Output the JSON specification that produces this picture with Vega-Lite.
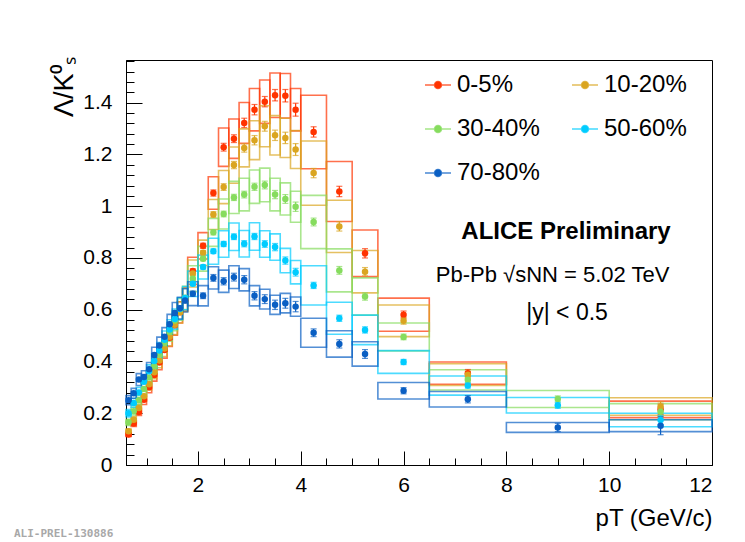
{
  "$schema": "https://vega.github.io/schema/vega-lite/v6.json",
  "width": 586,
  "height": 405,
  "autosize": {"type": "none"},
  "padding": {"left": 126, "top": 60, "right": 33, "bottom": 77},
  "background": "white",
  "title": {"text": "ALI-PREL-130886", "orient": "bottom", "anchor": "start", "frame": "group", "dx": -112, "offset": -2, "font": "DejaVu Sans Mono", "fontSize": 11, "fontWeight": "bold", "color": "#a8a8a8"},
  "config": {
    "font": "Liberation Sans",
    "view": {"stroke": "black", "strokeWidth": 1, "fill": "white"}
  },
  "data": {"values": [
    {"c":"0-5%","pt":0.65,"lo":0.6,"hi":0.7,"r":0.118,"s1":0.110,"s2":0.126,"e":0.005},
    {"c":"0-5%","pt":0.75,"lo":0.7,"hi":0.8,"r":0.160,"s1":0.149,"s2":0.171,"e":0.005},
    {"c":"0-5%","pt":0.85,"lo":0.8,"hi":0.9,"r":0.205,"s1":0.191,"s2":0.219,"e":0.005},
    {"c":"0-5%","pt":0.95,"lo":0.9,"hi":1.0,"r":0.252,"s1":0.234,"s2":0.270,"e":0.005},
    {"c":"0-5%","pt":1.05,"lo":1.0,"hi":1.1,"r":0.300,"s1":0.279,"s2":0.321,"e":0.005},
    {"c":"0-5%","pt":1.15,"lo":1.1,"hi":1.2,"r":0.348,"s1":0.324,"s2":0.372,"e":0.005},
    {"c":"0-5%","pt":1.25,"lo":1.2,"hi":1.3,"r":0.396,"s1":0.368,"s2":0.424,"e":0.005},
    {"c":"0-5%","pt":1.35,"lo":1.3,"hi":1.4,"r":0.444,"s1":0.413,"s2":0.475,"e":0.005},
    {"c":"0-5%","pt":1.45,"lo":1.4,"hi":1.5,"r":0.492,"s1":0.458,"s2":0.526,"e":0.005},
    {"c":"0-5%","pt":1.55,"lo":1.5,"hi":1.6,"r":0.540,"s1":0.502,"s2":0.578,"e":0.005},
    {"c":"0-5%","pt":1.65,"lo":1.6,"hi":1.7,"r":0.590,"s1":0.549,"s2":0.631,"e":0.005},
    {"c":"0-5%","pt":1.75,"lo":1.7,"hi":1.8,"r":0.640,"s1":0.595,"s2":0.685,"e":0.006},
    {"c":"0-5%","pt":1.9,"lo":1.8,"hi":2.0,"r":0.750,"s1":0.698,"s2":0.803,"e":0.008},
    {"c":"0-5%","pt":2.1,"lo":2.0,"hi":2.2,"r":0.847,"s1":0.796,"s2":0.898,"e":0.01},
    {"c":"0-5%","pt":2.3,"lo":2.2,"hi":2.4,"r":1.051,"s1":0.988,"s2":1.114,"e":0.012},
    {"c":"0-5%","pt":2.5,"lo":2.4,"hi":2.6,"r":1.228,"s1":1.154,"s2":1.302,"e":0.015},
    {"c":"0-5%","pt":2.7,"lo":2.6,"hi":2.8,"r":1.261,"s1":1.185,"s2":1.337,"e":0.015},
    {"c":"0-5%","pt":2.9,"lo":2.8,"hi":3.0,"r":1.322,"s1":1.243,"s2":1.401,"e":0.018},
    {"c":"0-5%","pt":3.1,"lo":3.0,"hi":3.2,"r":1.373,"s1":1.291,"s2":1.455,"e":0.02},
    {"c":"0-5%","pt":3.3,"lo":3.2,"hi":3.4,"r":1.404,"s1":1.320,"s2":1.488,"e":0.02},
    {"c":"0-5%","pt":3.5,"lo":3.4,"hi":3.6,"r":1.429,"s1":1.343,"s2":1.515,"e":0.022},
    {"c":"0-5%","pt":3.7,"lo":3.6,"hi":3.8,"r":1.427,"s1":1.341,"s2":1.513,"e":0.024},
    {"c":"0-5%","pt":3.9,"lo":3.8,"hi":4.0,"r":1.373,"s1":1.291,"s2":1.455,"e":0.025},
    {"c":"0-5%","pt":4.25,"lo":4.0,"hi":4.5,"r":1.287,"s1":1.145,"s2":1.429,"e":0.02},
    {"c":"0-5%","pt":4.75,"lo":4.5,"hi":5.0,"r":1.057,"s1":0.941,"s2":1.173,"e":0.02},
    {"c":"0-5%","pt":5.25,"lo":5.0,"hi":5.5,"r":0.818,"s1":0.728,"s2":0.908,"e":0.018},
    {"c":"0-5%","pt":6.0,"lo":5.5,"hi":6.5,"r":0.581,"s1":0.517,"s2":0.645,"e":0.014},
    {"c":"0-5%","pt":7.25,"lo":6.5,"hi":8.0,"r":0.355,"s1":0.312,"s2":0.398,"e":0.014},
    {"c":"0-5%","pt":11,"lo":10,"hi":12,"r":0.215,"s1":0.183,"s2":0.247,"e":0.02},

    {"c":"10-20%","pt":0.65,"lo":0.6,"hi":0.7,"r":0.130,"s1":0.121,"s2":0.139,"e":0.004},
    {"c":"10-20%","pt":0.75,"lo":0.7,"hi":0.8,"r":0.175,"s1":0.163,"s2":0.187,"e":0.004},
    {"c":"10-20%","pt":0.85,"lo":0.8,"hi":0.9,"r":0.220,"s1":0.205,"s2":0.235,"e":0.004},
    {"c":"10-20%","pt":0.95,"lo":0.9,"hi":1.0,"r":0.266,"s1":0.247,"s2":0.285,"e":0.004},
    {"c":"10-20%","pt":1.05,"lo":1.0,"hi":1.1,"r":0.312,"s1":0.290,"s2":0.334,"e":0.004},
    {"c":"10-20%","pt":1.15,"lo":1.1,"hi":1.2,"r":0.358,"s1":0.333,"s2":0.383,"e":0.004},
    {"c":"10-20%","pt":1.25,"lo":1.2,"hi":1.3,"r":0.404,"s1":0.376,"s2":0.432,"e":0.004},
    {"c":"10-20%","pt":1.35,"lo":1.3,"hi":1.4,"r":0.450,"s1":0.419,"s2":0.482,"e":0.005},
    {"c":"10-20%","pt":1.45,"lo":1.4,"hi":1.5,"r":0.496,"s1":0.461,"s2":0.531,"e":0.005},
    {"c":"10-20%","pt":1.55,"lo":1.5,"hi":1.6,"r":0.542,"s1":0.504,"s2":0.580,"e":0.005},
    {"c":"10-20%","pt":1.65,"lo":1.6,"hi":1.7,"r":0.590,"s1":0.549,"s2":0.631,"e":0.005},
    {"c":"10-20%","pt":1.75,"lo":1.7,"hi":1.8,"r":0.638,"s1":0.593,"s2":0.683,"e":0.006},
    {"c":"10-20%","pt":1.9,"lo":1.8,"hi":2.0,"r":0.740,"s1":0.688,"s2":0.792,"e":0.007},
    {"c":"10-20%","pt":2.1,"lo":2.0,"hi":2.2,"r":0.820,"s1":0.771,"s2":0.869,"e":0.009},
    {"c":"10-20%","pt":2.3,"lo":2.2,"hi":2.4,"r":0.968,"s1":0.910,"s2":1.026,"e":0.011},
    {"c":"10-20%","pt":2.5,"lo":2.4,"hi":2.6,"r":1.074,"s1":1.010,"s2":1.138,"e":0.013},
    {"c":"10-20%","pt":2.7,"lo":2.6,"hi":2.8,"r":1.159,"s1":1.089,"s2":1.229,"e":0.014},
    {"c":"10-20%","pt":2.9,"lo":2.8,"hi":3.0,"r":1.225,"s1":1.152,"s2":1.299,"e":0.016},
    {"c":"10-20%","pt":3.1,"lo":3.0,"hi":3.2,"r":1.255,"s1":1.180,"s2":1.330,"e":0.018},
    {"c":"10-20%","pt":3.3,"lo":3.2,"hi":3.4,"r":1.309,"s1":1.230,"s2":1.388,"e":0.019},
    {"c":"10-20%","pt":3.5,"lo":3.4,"hi":3.6,"r":1.274,"s1":1.198,"s2":1.350,"e":0.02},
    {"c":"10-20%","pt":3.7,"lo":3.6,"hi":3.8,"r":1.264,"s1":1.188,"s2":1.340,"e":0.022},
    {"c":"10-20%","pt":3.9,"lo":3.8,"hi":4.0,"r":1.219,"s1":1.146,"s2":1.292,"e":0.023},
    {"c":"10-20%","pt":4.25,"lo":4.0,"hi":4.5,"r":1.128,"s1":1.004,"s2":1.252,"e":0.018},
    {"c":"10-20%","pt":4.75,"lo":4.5,"hi":5.0,"r":0.922,"s1":0.821,"s2":1.023,"e":0.018},
    {"c":"10-20%","pt":5.25,"lo":5.0,"hi":5.5,"r":0.747,"s1":0.665,"s2":0.829,"e":0.016},
    {"c":"10-20%","pt":6.0,"lo":5.5,"hi":6.5,"r":0.557,"s1":0.496,"s2":0.618,"e":0.013},
    {"c":"10-20%","pt":7.25,"lo":6.5,"hi":8.0,"r":0.349,"s1":0.307,"s2":0.391,"e":0.013},
    {"c":"10-20%","pt":11,"lo":10,"hi":12,"r":0.226,"s1":0.192,"s2":0.260,"e":0.018},

    {"c":"30-40%","pt":0.65,"lo":0.6,"hi":0.7,"r":0.165,"s1":0.153,"s2":0.177,"e":0.004},
    {"c":"30-40%","pt":0.75,"lo":0.7,"hi":0.8,"r":0.208,"s1":0.193,"s2":0.223,"e":0.004},
    {"c":"30-40%","pt":0.85,"lo":0.8,"hi":0.9,"r":0.250,"s1":0.233,"s2":0.268,"e":0.004},
    {"c":"30-40%","pt":0.95,"lo":0.9,"hi":1.0,"r":0.294,"s1":0.273,"s2":0.315,"e":0.004},
    {"c":"30-40%","pt":1.05,"lo":1.0,"hi":1.1,"r":0.338,"s1":0.314,"s2":0.362,"e":0.004},
    {"c":"30-40%","pt":1.15,"lo":1.1,"hi":1.2,"r":0.382,"s1":0.355,"s2":0.409,"e":0.004},
    {"c":"30-40%","pt":1.25,"lo":1.2,"hi":1.3,"r":0.426,"s1":0.396,"s2":0.456,"e":0.004},
    {"c":"30-40%","pt":1.35,"lo":1.3,"hi":1.4,"r":0.470,"s1":0.437,"s2":0.503,"e":0.005},
    {"c":"30-40%","pt":1.45,"lo":1.4,"hi":1.5,"r":0.514,"s1":0.478,"s2":0.550,"e":0.005},
    {"c":"30-40%","pt":1.55,"lo":1.5,"hi":1.6,"r":0.558,"s1":0.519,"s2":0.597,"e":0.005},
    {"c":"30-40%","pt":1.65,"lo":1.6,"hi":1.7,"r":0.602,"s1":0.560,"s2":0.644,"e":0.005},
    {"c":"30-40%","pt":1.75,"lo":1.7,"hi":1.8,"r":0.646,"s1":0.601,"s2":0.691,"e":0.006},
    {"c":"30-40%","pt":1.9,"lo":1.8,"hi":2.0,"r":0.720,"s1":0.670,"s2":0.770,"e":0.007},
    {"c":"30-40%","pt":2.1,"lo":2.0,"hi":2.2,"r":0.797,"s1":0.749,"s2":0.845,"e":0.008},
    {"c":"30-40%","pt":2.3,"lo":2.2,"hi":2.4,"r":0.899,"s1":0.845,"s2":0.953,"e":0.01},
    {"c":"30-40%","pt":2.5,"lo":2.4,"hi":2.6,"r":0.970,"s1":0.912,"s2":1.028,"e":0.011},
    {"c":"30-40%","pt":2.7,"lo":2.6,"hi":2.8,"r":1.034,"s1":0.972,"s2":1.096,"e":0.012},
    {"c":"30-40%","pt":2.9,"lo":2.8,"hi":3.0,"r":1.045,"s1":0.982,"s2":1.108,"e":0.013},
    {"c":"30-40%","pt":3.1,"lo":3.0,"hi":3.2,"r":1.075,"s1":1.011,"s2":1.140,"e":0.014},
    {"c":"30-40%","pt":3.3,"lo":3.2,"hi":3.4,"r":1.082,"s1":1.017,"s2":1.147,"e":0.015},
    {"c":"30-40%","pt":3.5,"lo":3.4,"hi":3.6,"r":1.045,"s1":0.982,"s2":1.108,"e":0.016},
    {"c":"30-40%","pt":3.7,"lo":3.6,"hi":3.8,"r":1.028,"s1":0.966,"s2":1.090,"e":0.017},
    {"c":"30-40%","pt":3.9,"lo":3.8,"hi":4.0,"r":0.998,"s1":0.938,"s2":1.058,"e":0.018},
    {"c":"30-40%","pt":4.25,"lo":4.0,"hi":4.5,"r":0.939,"s1":0.836,"s2":1.042,"e":0.015},
    {"c":"30-40%","pt":4.75,"lo":4.5,"hi":5.0,"r":0.752,"s1":0.669,"s2":0.835,"e":0.015},
    {"c":"30-40%","pt":5.25,"lo":5.0,"hi":5.5,"r":0.651,"s1":0.579,"s2":0.723,"e":0.014},
    {"c":"30-40%","pt":6.0,"lo":5.5,"hi":6.5,"r":0.495,"s1":0.441,"s2":0.549,"e":0.011},
    {"c":"30-40%","pt":7.25,"lo":6.5,"hi":8.0,"r":0.329,"s1":0.290,"s2":0.368,"e":0.011},
    {"c":"30-40%","pt":9,"lo":8,"hi":10,"r":0.255,"s1":0.222,"s2":0.288,"e":0.012},
    {"c":"30-40%","pt":11,"lo":10,"hi":12,"r":0.206,"s1":0.175,"s2":0.237,"e":0.018},

    {"c":"50-60%","pt":0.65,"lo":0.6,"hi":0.7,"r":0.200,"s1":0.186,"s2":0.214,"e":0.004},
    {"c":"50-60%","pt":0.75,"lo":0.7,"hi":0.8,"r":0.240,"s1":0.223,"s2":0.257,"e":0.004},
    {"c":"50-60%","pt":0.85,"lo":0.8,"hi":0.9,"r":0.280,"s1":0.260,"s2":0.300,"e":0.004},
    {"c":"50-60%","pt":0.95,"lo":0.9,"hi":1.0,"r":0.322,"s1":0.299,"s2":0.345,"e":0.004},
    {"c":"50-60%","pt":1.05,"lo":1.0,"hi":1.1,"r":0.362,"s1":0.337,"s2":0.387,"e":0.004},
    {"c":"50-60%","pt":1.15,"lo":1.1,"hi":1.2,"r":0.402,"s1":0.374,"s2":0.430,"e":0.004},
    {"c":"50-60%","pt":1.25,"lo":1.2,"hi":1.3,"r":0.442,"s1":0.411,"s2":0.473,"e":0.005},
    {"c":"50-60%","pt":1.35,"lo":1.3,"hi":1.4,"r":0.484,"s1":0.450,"s2":0.518,"e":0.005},
    {"c":"50-60%","pt":1.45,"lo":1.4,"hi":1.5,"r":0.524,"s1":0.487,"s2":0.561,"e":0.005},
    {"c":"50-60%","pt":1.55,"lo":1.5,"hi":1.6,"r":0.564,"s1":0.525,"s2":0.603,"e":0.005},
    {"c":"50-60%","pt":1.65,"lo":1.6,"hi":1.7,"r":0.604,"s1":0.562,"s2":0.646,"e":0.006},
    {"c":"50-60%","pt":1.75,"lo":1.7,"hi":1.8,"r":0.645,"s1":0.600,"s2":0.690,"e":0.006},
    {"c":"50-60%","pt":1.9,"lo":1.8,"hi":2.0,"r":0.700,"s1":0.651,"s2":0.749,"e":0.007},
    {"c":"50-60%","pt":2.1,"lo":2.0,"hi":2.2,"r":0.765,"s1":0.719,"s2":0.811,"e":0.008},
    {"c":"50-60%","pt":2.3,"lo":2.2,"hi":2.4,"r":0.826,"s1":0.776,"s2":0.876,"e":0.009},
    {"c":"50-60%","pt":2.5,"lo":2.4,"hi":2.6,"r":0.854,"s1":0.803,"s2":0.905,"e":0.01},
    {"c":"50-60%","pt":2.7,"lo":2.6,"hi":2.8,"r":0.882,"s1":0.829,"s2":0.935,"e":0.011},
    {"c":"50-60%","pt":2.9,"lo":2.8,"hi":3.0,"r":0.855,"s1":0.804,"s2":0.906,"e":0.012},
    {"c":"50-60%","pt":3.1,"lo":3.0,"hi":3.2,"r":0.883,"s1":0.830,"s2":0.936,"e":0.012},
    {"c":"50-60%","pt":3.3,"lo":3.2,"hi":3.4,"r":0.854,"s1":0.803,"s2":0.905,"e":0.013},
    {"c":"50-60%","pt":3.5,"lo":3.4,"hi":3.6,"r":0.842,"s1":0.791,"s2":0.893,"e":0.014},
    {"c":"50-60%","pt":3.7,"lo":3.6,"hi":3.8,"r":0.790,"s1":0.743,"s2":0.837,"e":0.014},
    {"c":"50-60%","pt":3.9,"lo":3.8,"hi":4.0,"r":0.745,"s1":0.700,"s2":0.790,"e":0.015},
    {"c":"50-60%","pt":4.25,"lo":4.0,"hi":4.5,"r":0.694,"s1":0.618,"s2":0.770,"e":0.012},
    {"c":"50-60%","pt":4.75,"lo":4.5,"hi":5.0,"r":0.567,"s1":0.505,"s2":0.629,"e":0.012},
    {"c":"50-60%","pt":5.25,"lo":5.0,"hi":5.5,"r":0.522,"s1":0.465,"s2":0.579,"e":0.012},
    {"c":"50-60%","pt":6.0,"lo":5.5,"hi":6.5,"r":0.398,"s1":0.354,"s2":0.442,"e":0.01},
    {"c":"50-60%","pt":7.25,"lo":6.5,"hi":8.0,"r":0.307,"s1":0.270,"s2":0.344,"e":0.01},
    {"c":"50-60%","pt":9,"lo":8,"hi":10,"r":0.231,"s1":0.201,"s2":0.261,"e":0.012},
    {"c":"50-60%","pt":11,"lo":10,"hi":12,"r":0.174,"s1":0.148,"s2":0.200,"e":0.018},

    {"c":"70-80%","pt":0.65,"lo":0.6,"hi":0.7,"r":0.250,"s1":0.233,"s2":0.268,"e":0.006},
    {"c":"70-80%","pt":0.75,"lo":0.7,"hi":0.8,"r":0.277,"s1":0.258,"s2":0.296,"e":0.006},
    {"c":"70-80%","pt":0.85,"lo":0.8,"hi":0.9,"r":0.330,"s1":0.307,"s2":0.353,"e":0.006},
    {"c":"70-80%","pt":0.95,"lo":0.9,"hi":1.0,"r":0.340,"s1":0.316,"s2":0.364,"e":0.006},
    {"c":"70-80%","pt":1.05,"lo":1.0,"hi":1.1,"r":0.370,"s1":0.344,"s2":0.396,"e":0.006},
    {"c":"70-80%","pt":1.15,"lo":1.1,"hi":1.2,"r":0.425,"s1":0.395,"s2":0.455,"e":0.006},
    {"c":"70-80%","pt":1.25,"lo":1.2,"hi":1.3,"r":0.462,"s1":0.430,"s2":0.494,"e":0.007},
    {"c":"70-80%","pt":1.35,"lo":1.3,"hi":1.4,"r":0.496,"s1":0.461,"s2":0.531,"e":0.007},
    {"c":"70-80%","pt":1.45,"lo":1.4,"hi":1.5,"r":0.544,"s1":0.506,"s2":0.582,"e":0.008},
    {"c":"70-80%","pt":1.55,"lo":1.5,"hi":1.6,"r":0.587,"s1":0.546,"s2":0.628,"e":0.008},
    {"c":"70-80%","pt":1.65,"lo":1.6,"hi":1.7,"r":0.606,"s1":0.564,"s2":0.648,"e":0.009},
    {"c":"70-80%","pt":1.75,"lo":1.7,"hi":1.8,"r":0.636,"s1":0.591,"s2":0.681,"e":0.01},
    {"c":"70-80%","pt":1.9,"lo":1.8,"hi":2.0,"r":0.662,"s1":0.616,"s2":0.708,"e":0.01},
    {"c":"70-80%","pt":2.1,"lo":2.0,"hi":2.2,"r":0.654,"s1":0.615,"s2":0.693,"e":0.011},
    {"c":"70-80%","pt":2.3,"lo":2.2,"hi":2.4,"r":0.723,"s1":0.680,"s2":0.766,"e":0.013},
    {"c":"70-80%","pt":2.5,"lo":2.4,"hi":2.6,"r":0.710,"s1":0.667,"s2":0.753,"e":0.014},
    {"c":"70-80%","pt":2.7,"lo":2.6,"hi":2.8,"r":0.726,"s1":0.682,"s2":0.770,"e":0.015},
    {"c":"70-80%","pt":2.9,"lo":2.8,"hi":3.0,"r":0.716,"s1":0.673,"s2":0.759,"e":0.016},
    {"c":"70-80%","pt":3.1,"lo":3.0,"hi":3.2,"r":0.654,"s1":0.615,"s2":0.693,"e":0.016},
    {"c":"70-80%","pt":3.3,"lo":3.2,"hi":3.4,"r":0.641,"s1":0.603,"s2":0.679,"e":0.017},
    {"c":"70-80%","pt":3.5,"lo":3.4,"hi":3.6,"r":0.619,"s1":0.582,"s2":0.656,"e":0.018},
    {"c":"70-80%","pt":3.7,"lo":3.6,"hi":3.8,"r":0.625,"s1":0.588,"s2":0.663,"e":0.019},
    {"c":"70-80%","pt":3.9,"lo":3.8,"hi":4.0,"r":0.612,"s1":0.575,"s2":0.649,"e":0.02},
    {"c":"70-80%","pt":4.25,"lo":4.0,"hi":4.5,"r":0.511,"s1":0.455,"s2":0.567,"e":0.015},
    {"c":"70-80%","pt":4.75,"lo":4.5,"hi":5.0,"r":0.468,"s1":0.417,"s2":0.519,"e":0.016},
    {"c":"70-80%","pt":5.25,"lo":5.0,"hi":5.5,"r":0.429,"s1":0.382,"s2":0.476,"e":0.017},
    {"c":"70-80%","pt":6.0,"lo":5.5,"hi":6.5,"r":0.287,"s1":0.255,"s2":0.319,"e":0.012},
    {"c":"70-80%","pt":7.25,"lo":6.5,"hi":8.0,"r":0.254,"s1":0.224,"s2":0.284,"e":0.014},
    {"c":"70-80%","pt":9,"lo":8,"hi":10,"r":0.145,"s1":0.126,"s2":0.164,"e":0.016},
    {"c":"70-80%","pt":11,"lo":10,"hi":12,"r":0.152,"s1":0.129,"s2":0.175,"e":0.035}
  ]},
  "resolve": {"axis": {"x": "independent", "y": "independent"}},
  "layer": [
    {
      "mark": {"type": "rect", "filled": false, "strokeWidth": 1.6, "strokeOpacity": 0.7},
      "encoding": {
        "x": {"field": "lo", "type": "quantitative", "scale": {"domain": [0.6, 12], "nice": false, "zero": false},
          "axis": {"orient": "bottom", "values": [2, 4, 6, 8, 10, 12], "format": "d", "grid": false, "tickSize": -14, "tickColor": "black", "tickWidth": 1, "domainColor": "black", "labelFontSize": 21, "labelColor": "black", "labelPadding": 23, "labelFont": "Liberation Sans",
            "title": "pT (GeV/c)", "titleFont": "Liberation Sans", "titleFontSize": 24, "titleFontWeight": "normal", "titleColor": "black", "titleAnchor": "end", "titleAlign": "right", "titleX": 586, "titleY": 53, "titleBaseline": "middle"}},
        "x2": {"field": "hi"},
        "y": {"field": "s1", "type": "quantitative", "scale": {"domain": [0, 1.565], "nice": false, "zero": true},
          "axis": {"orient": "left", "values": [0, 0.2, 0.4, 0.6, 0.8, 1, 1.2, 1.4], "format": ".1~f", "grid": false, "tickSize": -16, "tickColor": "black", "tickWidth": 1, "domainColor": "black", "labelFontSize": 21, "labelColor": "black", "labelPadding": 30, "labelFont": "Liberation Sans",
            "title": "Λ/K⁰ₛ", "titleFont": "Liberation Sans", "titleFontSize": 27, "titleFontWeight": "normal", "titleColor": "black", "titleAngle": 270, "titleAlign": "right", "titleBaseline": "middle", "titleX": -62, "titleY": -4}},
        "y2": {"field": "s2"},
        "color": {"field": "c", "type": "nominal", "scale": {"domain": ["0-5%", "10-20%", "30-40%", "50-60%", "70-80%"], "range": ["#ff3300", "#daa520", "#86dc5e", "#00ccff", "#0a5fc3"]},
          "legend": {"orient": "none", "legendX": 298, "legendY": 11, "columns": 2, "direction": "horizontal", "title": null, "padding": 0,
            "symbolType": "M-1,0H1M-0.27,0A0.27,0.27 0 1,0 0.27,0A0.27,0.27 0 1,0 -0.27,0Z", "symbolSize": 676, "symbolStrokeWidth": 1.5,
            "labelFontSize": 24, "labelFont": "Liberation Sans", "labelColor": "black", "labelOffset": 5, "labelLimit": 300,
            "columnPadding": 29, "rowPadding": 18,
            "encode": {"symbols": {"update": {"stroke": {"scale": "color", "field": "value"}, "fill": {"scale": "color", "field": "value"}, "fillOpacity": {"value": 1}, "strokeWidth": {"value": 1.5}, "strokeOpacity": {"value": 0.75}, "opacity": {"value": 1}}}}}}
      }
    },
    {
      "mark": {"type": "errorbar", "ticks": {"size": 6}, "thickness": 1.2},
      "encoding": {
        "x": {"field": "pt", "type": "quantitative", "axis": null},
        "y": {"field": "r", "type": "quantitative", "axis": null},
        "yError": {"field": "e"},
        "color": {"field": "c", "type": "nominal"}
      }
    },
    {
      "mark": {"type": "point", "shape": "circle", "filled": true, "size": 42, "opacity": 1},
      "encoding": {
        "x": {"field": "pt", "type": "quantitative",
          "axis": {"orient": "bottom", "values": [1, 1.5, 2.5, 3, 3.5, 4.5, 5, 5.5, 6.5, 7, 7.5, 8.5, 9, 9.5, 10.5, 11, 11.5], "labels": false, "domain": false, "grid": false, "tickSize": -7, "tickColor": "black", "tickWidth": 1, "title": null}},
        "y": {"field": "r", "type": "quantitative",
          "axis": {"orient": "left", "values": [0.04, 0.08, 0.12, 0.16, 0.24, 0.28, 0.32, 0.36, 0.44, 0.48, 0.52, 0.56, 0.64, 0.68, 0.72, 0.76, 0.84, 0.88, 0.92, 0.96, 1.04, 1.08, 1.12, 1.16, 1.24, 1.28, 1.32, 1.36, 1.44, 1.48, 1.52, 1.56], "labels": false, "domain": false, "grid": false, "tickSize": -8, "tickColor": "black", "tickWidth": 1, "title": null}},
        "color": {"field": "c", "type": "nominal"}
      }
    },
    {
      "data": {"values": [{}]},
      "mark": {"type": "text", "text": "ALICE Preliminary", "font": "Liberation Sans", "fontWeight": "bold", "fontSize": 24, "align": "center", "baseline": "middle", "color": "black"},
      "encoding": {"x": {"datum": 9.16, "type": "quantitative", "axis": null}, "y": {"datum": 0.9, "type": "quantitative", "axis": null}}
    },
    {
      "data": {"values": [{}]},
      "mark": {"type": "text", "text": "Pb-Pb √sNN = 5.02 TeV", "font": "Liberation Sans", "fontSize": 22, "align": "center", "baseline": "middle", "color": "black"},
      "encoding": {"x": {"datum": 8.9, "type": "quantitative", "axis": null}, "y": {"datum": 0.735, "type": "quantitative", "axis": null}}
    },
    {
      "data": {"values": [{}]},
      "mark": {"type": "text", "text": "|y| < 0.5", "font": "Liberation Sans", "fontSize": 23, "align": "center", "baseline": "middle", "color": "black"},
      "encoding": {"x": {"datum": 9.18, "type": "quantitative", "axis": null}, "y": {"datum": 0.588, "type": "quantitative", "axis": null}}
    }
  ]
}
